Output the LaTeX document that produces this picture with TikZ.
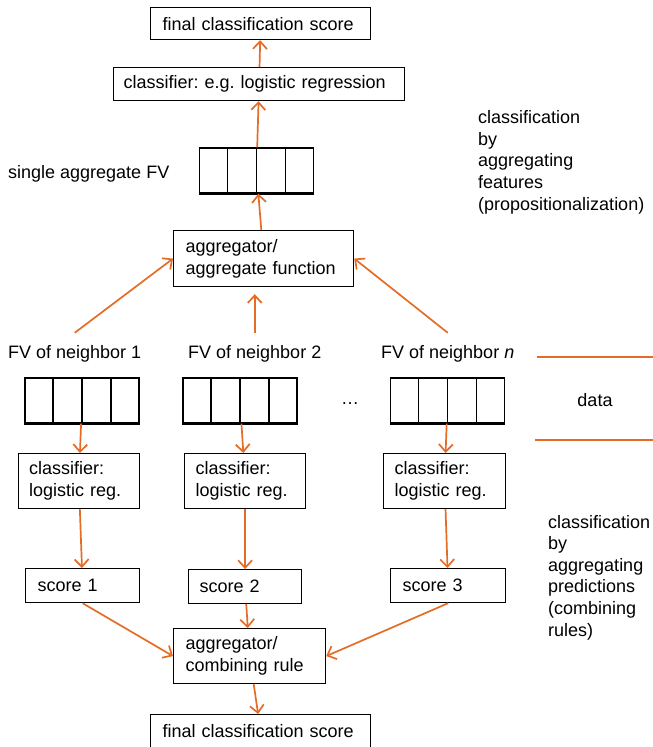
\documentclass[tikz,border=0pt]{standalone}
\usepackage{fontspec}
\setmainfont{Liberation Sans}
\usepackage{tikz}
\usetikzlibrary{arrows.meta,calc,positioning}
\definecolor{arroworange}{RGB}{228,108,38}
\frenchspacing

\begin{document}
\begin{tikzpicture}[x=1pt, y=-1pt,
    every node/.style={font=\fontsize{18}{21.6}\selectfont},
    box/.style={draw, line width=1.2pt, anchor=north west, inner xsep=12pt, inner ysep=0pt, align=left},
    vecbox/.style={draw, line width=1.4pt, minimum width=114pt, minimum height=45pt, inner sep=0pt},
    flow/.style={-{Straight Barb[length=7.5pt,width=14pt]}, line width=1.7pt, arroworange},
    sepline/.style={line width=1.8pt, arroworange},
    txt/.style={anchor=base west, inner sep=0pt, align=left}]
            \useasboundingbox (0,0) rectangle (653,747);
            % Upper part: aggregating features
            \node[box, text width=196pt, minimum height=32pt] (finA) at (150,7) {final classification score};
            \node[box, text width=271pt, minimum height=33pt, inner xsep=10pt] (cls) at (113,67) {classifier: e.g. logistic regression};
            \node[vecbox] (vtop) at (256.5,170.5) {};
            \node[txt] (aggfv) at (8,178) {single aggregate FV};
            \node[box, text width=156pt, minimum height=56pt] (aggA) at (173,230) {aggregator/\\aggregate function};
            % (base of a multi-line text = its last line)
            \node[txt] (featnote) at (478,210) {classification\\by\\aggregating\\features\\(propositionalization)};
            % Data of the neighbors
            \node[txt] (fv1) at (8,358) {FV of neighbor 1};
            \node[txt] (fv2) at (188,358) {FV of neighbor 2};
            \node[txt] (fvn) at (381,358) {FV of neighbor \textit{n}};
            \node[vecbox] (v1) at (82,400.5) {};
            \node[vecbox] (v2) at (240,400.5) {};
            \node[vecbox] (v3) at (447.5,400.5) {};
            \node[anchor=base, inner sep=0pt] (dots) at (350,404) {…};
            \node[anchor=base, inner sep=0pt] (data) at (595,406) {data};
            % Lower part: aggregating predictions
            \node[box, text width=99.5pt, minimum height=55pt, inner xsep=11pt] (c1) at (17.5,453) {classifier:\\logistic reg.};
            \node[box, text width=99pt, minimum height=55pt, inner xsep=11pt] (c2) at (184,453) {classifier:\\logistic reg.};
            \node[box, text width=100pt, minimum height=55pt, inner xsep=11pt] (c3) at (383,453) {classifier:\\logistic reg.};
            \node[box, text width=90pt, minimum height=34pt] (s1) at (25,568) {score 1};
            \node[box, text width=91pt, minimum height=34pt, inner xsep=11pt] (s2) at (188,569) {score 2};
            \node[box, text width=91pt, minimum height=34pt] (s3) at (390,568) {score 3};
            \node[box, text width=128pt, minimum height=55pt] (comb) at (173,628) {aggregator/\\combining rule};
            \node[box, text width=196pt, minimum height=33pt] (finB) at (150,714) {final classification score};
            \node[txt] (prednote) at (548,636) {classification\\by\\aggregating\\predictions\\(combining\\rules)};
            % Cells of the feature vectors
            \foreach \v in {vtop,v1,v2,v3} {
              \foreach \k in {1,2,3}
                \draw[line width=1.4pt] ($(\v.north west)!\k/4!(\v.north east)$) -- ($(\v.south west)!\k/4!(\v.south east)$);
              \draw[line width=3pt] (\v.south west) -- (\v.south east);
            }
            % Separator lines
            \coordinate (sepA1) at (537,357);
            \coordinate (sepA2) at (653,357);
            \coordinate (sepB1) at (535,440);
            \coordinate (sepB2) at (653,440);
            \draw[sepline] (sepA1) -- (sepA2);
            \draw[sepline] (sepB1) -- (sepB2);
            % Arrows
            \draw[flow] (cls) -- (finA);
            \draw[flow] (vtop) -- (cls);
            \draw[flow] (aggA) -- (vtop);
            \draw[flow] ([yshift=12pt]fv1.north) -- (aggA.west);
            \draw[flow] ([yshift=12pt]fv2.north) -- ([yshift=-7pt]fv2.north |- aggA.south);
            \draw[flow] ([yshift=12pt]fvn.north) -- (aggA.east);
            \draw[flow] (v1) -- (c1);
            \draw[flow] (v2) -- (c2);
            \draw[flow] (v3) -- (c3);
            \draw[flow] (c1) -- (s1);
            \draw[flow] (c2) -- (s2);
            \draw[flow] (c3) -- (s3);
            \draw[flow] (s1.south) -- (comb.west);
            \draw[flow] (s2) -- (comb);
            \draw[flow] (s3.south) -- (comb.east);
            \draw[flow] (comb) -- (finB);
          \end{tikzpicture}
\end{document}
